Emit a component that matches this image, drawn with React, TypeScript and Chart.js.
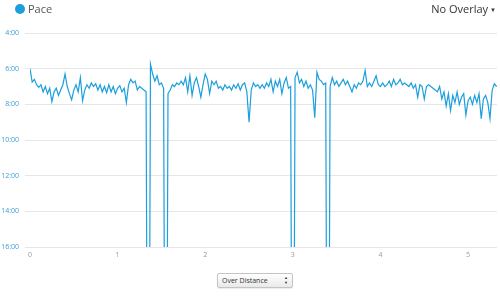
import React, { useEffect, useRef } from "react";
import { Chart, registerables } from "chart.js";

Chart.register(...registerables);

// Sampling interval of the pace series along distance (km)
const SAMPLE_KM = 0.025;

// Pace in minutes per km, one value per sample
const paceMinutes: number[] = [
  6.0, 6.75, 6.6, 6.9, 7.05, 6.9, 7.3, 7.0, 7.4, 7.1,
  7.85, 7.3, 7.1, 7.5, 7.2, 6.9, 6.3, 7.0, 7.4, 7.75,
  7.2, 6.9, 7.3, 6.5, 7.8, 7.2, 6.9, 7.1, 6.8, 7.0,
  6.85, 7.2, 6.9, 7.3, 7.0, 7.35, 6.9, 7.3, 7.0, 7.4,
  7.1, 6.95, 7.3, 7.1, 7.9, 6.9, 6.6, 6.8, 6.7, 7.2,
  7.0, 7.1, 7.2, 7.3, 40, 5.75, 6.3, 6.7, 6.4, 6.9,
  6.8, 7.1, 40, 7.4, 7.2, 6.9, 7.0, 6.8, 6.9, 6.7,
  6.9, 6.5, 7.3, 6.4, 7.5, 6.8, 6.5, 7.0, 7.6, 6.9,
  6.3, 6.6, 7.4, 6.7, 6.9, 6.7, 7.1, 7.0, 7.2, 6.9,
  7.1, 7.0, 7.2, 6.9, 7.1, 6.85, 7.2, 6.9, 6.8, 7.3,
  9.0, 7.2, 6.8, 7.0, 6.9, 7.1, 6.9, 7.1, 6.8, 7.0,
  6.6, 7.3, 6.7, 7.0, 6.6, 7.4, 6.8, 6.5, 7.1, 7.0,
  40, 6.5, 6.2, 6.8, 6.6, 7.0, 6.7, 7.1, 6.9, 7.2,
  8.75, 6.2, 6.6, 6.7, 6.9, 6.8, 40, 7.0, 6.5, 6.9,
  6.7, 7.0, 6.8, 6.6, 6.9, 6.7, 7.0, 7.3, 6.9, 7.1,
  6.8, 6.9, 6.7, 6.1, 7.0, 6.8, 7.0, 6.7, 6.4, 6.9,
  7.0, 6.8, 7.0, 6.9, 6.7, 7.0, 6.6, 6.9, 6.8, 6.6,
  6.9, 6.8, 6.9, 7.0, 6.8, 7.1, 6.9, 7.6, 6.9, 7.0,
  7.7, 7.0, 6.9, 7.0, 7.1, 7.2, 7.3, 7.0, 7.7, 7.3,
  8.1, 7.4, 8.35, 7.5, 7.9, 7.3, 8.0, 7.6, 7.4, 8.6,
  7.8, 7.6, 8.0, 7.5, 7.9, 7.4, 8.8, 7.7, 7.5, 7.9,
  8.8, 7.2, 6.85, 7.0,
];

const distanceKm: number[] = paceMinutes.map((_, i) => i * SAMPLE_KM);

const xTickValues = [0, 1, 2, 3, 4, 5];
const yTickValues = [4, 6, 8, 10, 12, 14, 16];
const yTickLabels = ["4:00", "6:00", "8:00", "10:00", "12:00", "14:00", "16:00"];

const LINE_COLOR = "#1c9fdd";

export default function App() {
  const canvasRef = useRef<HTMLCanvasElement | null>(null);

  useEffect(() => {
    const canvas = canvasRef.current;
    if (!canvas) return;
    const chart = new Chart(canvas, {
      type: "line",
      data: {
        datasets: [
          {
            label: "Pace",
            data: distanceKm.map((d, i) => ({ x: d, y: paceMinutes[i] })),
            borderColor: LINE_COLOR,
            borderWidth: 1.2,
            pointRadius: 0,
            tension: 0,
            fill: false,
          },
        ],
      },
      options: {
        animation: false,
        responsive: false,
        maintainAspectRatio: false,
        layout: { padding: { top: 33, right: 3, left: 0, bottom: 0 } },
        plugins: { legend: { display: false }, tooltip: { enabled: false } },
        scales: {
          x: {
            type: "linear",
            min: 0,
            max: 5.33,
            afterFit: (s: any) => {
              s.height = 15;
            },
            afterBuildTicks: (s: any) => {
              s.ticks = xTickValues.map((v) => ({ value: v }));
            },
            grid: { display: false, drawTicks: false },
            border: { display: false },
            ticks: {
              color: "#9a9a9a",
              padding: 4,
              font: { family: "Open Sans", size: 7 },
              maxRotation: 0,
            },
          },
          y: {
            type: "linear",
            reverse: true,
            min: 4,
            max: 16,
            afterFit: (s: any) => {
              s.width = 30;
            },
            afterBuildTicks: (s: any) => {
              s.ticks = yTickValues.map((v) => ({ value: v }));
            },
            grid: { color: "#e6e6e6", lineWidth: 1, tickLength: 5, drawTicks: true },
            border: { display: false },
            ticks: {
              color: "#3a9fd6",
              padding: 6,
              font: { family: "Open Sans", size: 7 },
              callback: (v: any) => {
                const idx = yTickValues.indexOf(Number(v));
                return idx >= 0 ? yTickLabels[idx] : "";
              },
            },
          },
        },
      },
    });
    return () => chart.destroy();
  }, []);

  return (
    <div
      style={{
        position: "absolute",
        left: 0,
        top: 0,
        width: 500,
        height: 301,
        background: "#fff",
        fontFamily: "'Open Sans', sans-serif",
        overflow: "hidden",
      }}
    >
      <canvas
        ref={canvasRef}
        width={500}
        height={262}
        style={{ position: "absolute", left: 0, top: 0, width: 500, height: 262 }}
      />
      <div
        style={{
          position: "absolute",
          left: 15,
          top: 4,
          width: 10,
          height: 10,
          borderRadius: "50%",
          background: LINE_COLOR,
        }}
      />
      <div
        style={{
          position: "absolute",
          left: 28,
          top: 0,
          fontSize: 11,
          lineHeight: "18px",
          color: "#555",
        }}
      >
        Pace
      </div>
      <div
        style={{
          position: "absolute",
          right: 4,
          top: 0,
          fontSize: 11,
          lineHeight: "18px",
          color: "#333",
        }}
      >
        No Overlay<span style={{ fontSize: 6, marginLeft: 2, verticalAlign: "middle" }}>▼</span>
      </div>
      <div
        style={{
          position: "absolute",
          left: 217,
          top: 273,
          width: 76,
          height: 15,
          boxSizing: "border-box",
          border: "1px solid #c4c4c4",
          borderRadius: 2,
          background: "linear-gradient(#ffffff, #e9e9e9)",
          boxShadow: "0 1px 1px rgba(0,0,0,0.08)",
        }}
      >
        <select
          defaultValue="distance"
          style={{
            appearance: "none",
            WebkitAppearance: "none",
            width: "100%",
            height: "100%",
            border: "none",
            background: "transparent",
            fontSize: 7,
            fontFamily: "'Open Sans', sans-serif",
            color: "#333",
            padding: "0 0 0 4px",
            margin: 0,
            outline: "none",
            display: "block",
          }}
        >
          <option value="distance">Over Distance</option>
          <option value="time">Over Time</option>
        </select>
        <span
          style={{
            position: "absolute",
            right: 4,
            top: 1,
            fontSize: 4,
            lineHeight: "5px",
            color: "#333",
            display: "flex",
            flexDirection: "column",
            pointerEvents: "none",
          }}
        >
          <span>▲</span>
          <span>▼</span>
        </span>
      </div>
    </div>
  );
}
